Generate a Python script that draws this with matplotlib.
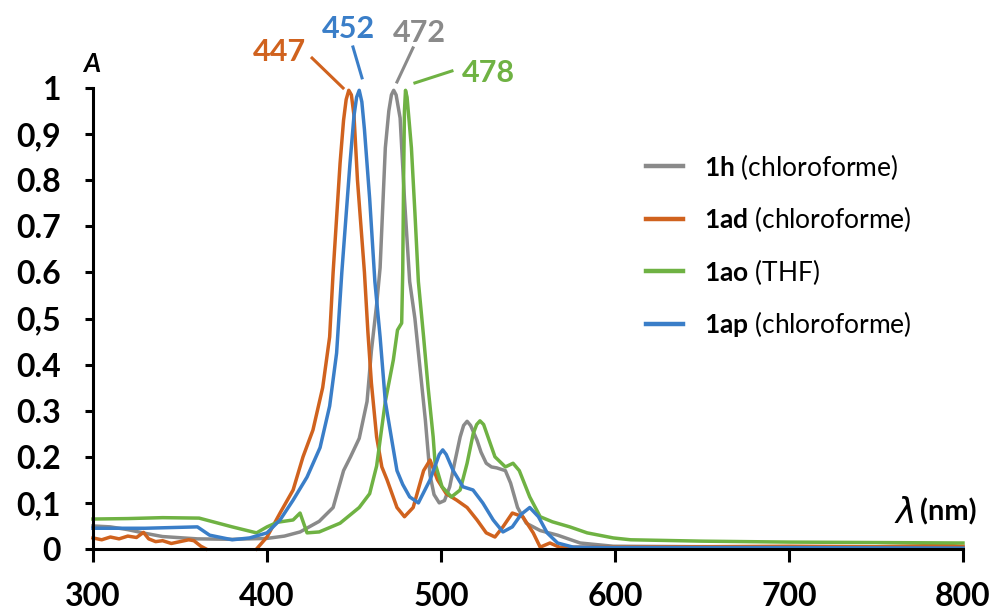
import numpy as np
import matplotlib
matplotlib.use("Agg")
import matplotlib.pyplot as plt

plt.rcParams['font.family'] = ['Lato', 'DejaVu Sans']
plt.rcParams['mathtext.fontset'] = 'custom'
plt.rcParams['mathtext.bf'] = 'Lato:bold'
plt.rcParams['mathtext.rm'] = 'Lato'

# absorbance spectra (wavelength nm, normalised A)
wl_1h = [300, 310, 320, 330, 340, 360, 380, 400, 410, 419, 430, 438, 444, 448, 453, 457.5, 460, 463,
         465, 468, 470, 471.5, 472.8, 474.2, 476.5, 479, 482, 485, 488, 491, 493.7, 496, 499, 502,
         505, 508, 511, 513, 515, 517, 520.7, 523, 526, 529, 532, 537, 540, 544, 549, 557, 567, 580,
         599, 650, 700, 800]
A_1h = [0.05, 0.048, 0.042, 0.034, 0.027, 0.022, 0.021, 0.023, 0.028, 0.037, 0.06, 0.09, 0.17, 0.2,
        0.24, 0.32, 0.43, 0.53, 0.61, 0.87, 0.95, 0.985, 0.995, 0.985, 0.935, 0.76, 0.58, 0.5, 0.39,
        0.28, 0.16, 0.118, 0.1, 0.105, 0.135, 0.19, 0.243, 0.268, 0.277, 0.268, 0.236, 0.21, 0.186,
        0.178, 0.176, 0.17, 0.143, 0.09, 0.056, 0.04, 0.03, 0.013, 0.006, 0.005, 0.004, 0.004]

wl_1ad = [300, 305, 310, 315, 320, 325, 329, 332, 336, 340, 345, 350, 355, 358, 362, 365, 380, 394,
          400, 407.5, 415, 420.7, 426.4, 432, 436, 438, 442, 444, 445.5, 447, 448.5, 450, 452, 454,
          456, 458, 460, 463, 466, 469, 474.7, 479, 484, 490, 493.7, 498, 503, 509, 515, 520.7, 526,
          531, 535.6, 541, 547, 553, 557, 562.6, 568, 600, 650, 700, 750, 790, 800]
A_1ad = [0.024, 0.02, 0.026, 0.022, 0.028, 0.025, 0.036, 0.022, 0.016, 0.018, 0.012, 0.016, 0.02,
         0.018, 0.006, 0.0, np.nan, 0.0, 0.026, 0.078, 0.128, 0.2, 0.258, 0.35, 0.46, 0.6, 0.837,
         0.93, 0.975, 0.995, 0.985, 0.94, 0.8, 0.7, 0.6, 0.47, 0.36, 0.243, 0.178, 0.15, 0.09, 0.07,
         0.09, 0.17, 0.193, 0.15, 0.12, 0.106, 0.09, 0.063, 0.035, 0.026, 0.048, 0.078, 0.07, 0.035,
         0.004, 0.013, 0.004, 0.004, 0.005, 0.006, 0.005, 0.008, 0.006]

wl_1ao = [300, 320, 340, 361, 370, 380, 394, 400, 406, 415, 419, 423, 430, 442, 453, 459, 463, 468,
          472.6, 475, 477.4, 478, 478.5, 479, 479.6, 480.5, 483, 485, 487, 490, 492.6, 495.5, 496.6,
          500.6, 506, 511, 515, 518.5, 520.5, 522.4, 524.5, 527, 531, 537, 541.4, 545, 551, 557, 564,
          574, 584, 599, 609, 650, 700, 800]
A_1ao = [0.065, 0.066, 0.068, 0.067, 0.058, 0.048, 0.035, 0.048, 0.058, 0.063, 0.078, 0.035, 0.037,
         0.056, 0.09, 0.12, 0.18, 0.32, 0.41, 0.475, 0.49, 0.6, 0.8, 0.95, 0.995, 0.98, 0.87, 0.73,
         0.58, 0.46, 0.35, 0.243, 0.186, 0.135, 0.113, 0.128, 0.186, 0.25, 0.27, 0.278, 0.27, 0.243,
         0.2, 0.178, 0.186, 0.17, 0.113, 0.07, 0.059, 0.048, 0.035, 0.024, 0.02, 0.017, 0.015, 0.013]

wl_1ap = [300, 330, 360, 367, 380, 390, 400, 407.5, 415, 423, 430.5, 436, 440, 443, 447.7, 450,
          451.5, 453, 454.5, 456, 459, 462, 465, 468, 472, 474.7, 478, 482, 487, 493.7, 499, 501,
          503, 507, 512.6, 518.4, 524, 530, 535.6, 541, 546, 551, 556, 561, 567, 576, 600, 700, 800]
A_1ap = [0.045, 0.045, 0.048, 0.03, 0.02, 0.024, 0.035, 0.063, 0.106, 0.156, 0.22, 0.31, 0.425, 0.6,
         0.837, 0.94, 0.98, 0.995, 0.97, 0.91, 0.76, 0.58, 0.46, 0.32, 0.23, 0.17, 0.14, 0.113, 0.1,
         0.15, 0.205, 0.215, 0.205, 0.17, 0.135, 0.128, 0.1, 0.063, 0.037, 0.048, 0.075, 0.09, 0.07,
         0.035, 0.013, 0.004, 0.003, 0.003, 0.002]

names = ['1h', '1ad', '1ao', '1ap']
solvents = ['chloroforme', 'chloroforme', 'THF', 'chloroforme']
colors = ['#8a8a8a', '#d0621e', '#6fb243', '#3a7ec8']
peaks = [472, 447, 478, 452]

fig = plt.figure(figsize=(9.97, 6.11), dpi=100)
ax = fig.add_axes([93 / 997, 1 - 549 / 611, 870 / 997, 461 / 611])

series = [(wl_1h, A_1h), (wl_1ad, A_1ad), (wl_1ao, A_1ao), (wl_1ap, A_1ap)]
lines = []
for (x, y), c, n, s in zip(series, colors, names, solvents):
    ln, = ax.plot(x, y, color=c, lw=2.5, clip_on=False, solid_joinstyle='round',
                  label=r'$\mathbf{' + n + '}$ (' + s + ')')
    lines.append(ln)

ax.set_xlim(300, 800)
ax.set_ylim(0, 1)
ax.set_xticks([300, 400, 500, 600, 700, 800])
yt = [0, 0.1, 0.2, 0.3, 0.4, 0.5, 0.6, 0.7, 0.8, 0.9, 1]
ytl = ['0', '0,1', '0.2', '0.3', '0.4', '0,5', '0.6', '0.7', '0.8', '0,9', '1']
ax.set_yticks(yt)
ax.set_yticklabels(ytl)

for sp in ['top', 'right']:
    ax.spines[sp].set_visible(False)
for sp in ['left', 'bottom']:
    ax.spines[sp].set_linewidth(2.2)
ax.tick_params(axis='y', length=6, width=2.2, pad=17, labelsize=23)
ax.tick_params(axis='x', length=9, width=2.2, pad=15, labelsize=23)
for t in ax.get_xticklabels() + ax.get_yticklabels():
    t.set_fontweight('bold')

ax.text(299.4, 1.052, 'A', fontsize=19, fontweight='bold', fontstyle='italic',
        ha='center', va='center')
ax.text(766.5, 0.078, r'$\lambda$', fontsize=25, ha='center', va='center')
ax.text(775, 0.08, '(nm)', fontsize=21, fontweight='bold', ha='left', va='center')

# peak labels with leader lines: label centre, then line start/end
lab_pos = {447: (406.9, 1.078, 425.9, 1.065, 443.7, 1.0),
           452: (446.6, 1.128, 449.4, 1.089, 454.6, 1.022),
           472: (487.4, 1.12, 483.9, 1.087, 474.7, 1.013),
           478: (527.0, 1.032, 506.3, 1.037, 485.0, 1.011)}
for p, c in zip(peaks, colors):
    tx, ty, x0, y0, x1, y1 = lab_pos[p]
    ax.plot([x0, x1], [y0, y1], color=c, lw=2.2, clip_on=False)
    ax.text(tx, ty, str(p), color=c, fontsize=22, fontweight='bold',
            ha='center', va='center')

leg = ax.legend(handles=lines, loc='upper left', bbox_to_anchor=(622 / 997, 1 - 128 / 611),
                bbox_transform=fig.transFigure, frameon=False, fontsize=19,
                handlelength=1.4, handletextpad=0.8, labelspacing=0.85)
for l in leg.get_lines():
    l.set_linewidth(3.2)

fig.savefig('out.png', dpi=100)
